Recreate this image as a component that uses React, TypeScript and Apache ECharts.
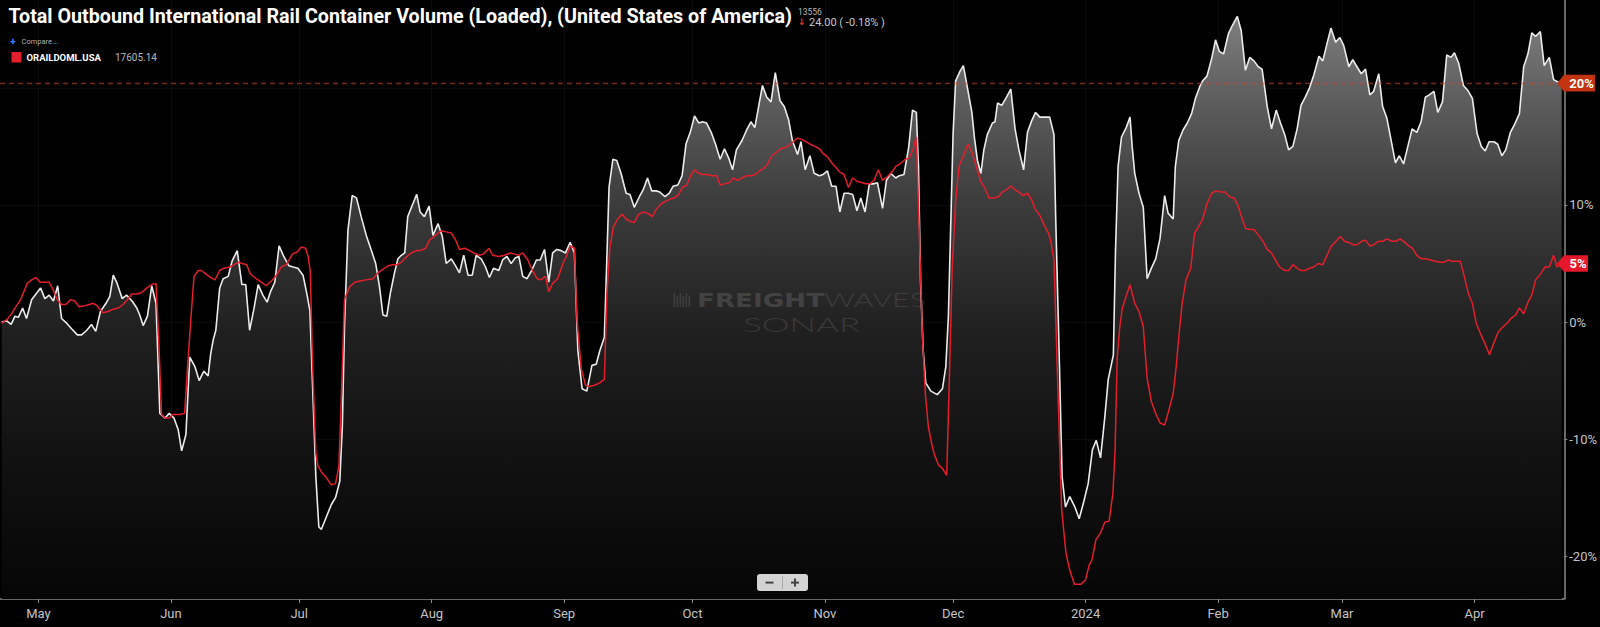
import React, { useEffect, useRef } from "react";
import * as echarts from "echarts";

// ---------- data ----------
const START_DATE = "2023-04-22"; // left edge of the time axis
const END_DATE = "2024-04-22"; // right edge of the time axis

const monthTicks = [
  "2023-05-01", "2023-06-01", "2023-07-01", "2023-08-01", "2023-09-01", "2023-10-01",
  "2023-11-01", "2023-12-01", "2024-01-01", "2024-02-01", "2024-03-01", "2024-04-01",
];
const monthLabels = ["May", "Jun", "Jul", "Aug", "Sep", "Oct", "Nov", "Dec", "2024", "Feb", "Mar", "Apr"];

const yTickValues = [-20, -10, 0, 10, 20];
const yLabelValues = [-20, -10, 0, 10];

const TITLE = "Total Outbound International Rail Container Volume (Loaded), (United States of America)";
const LAST_VALUE = "13556";
const CHANGE_TEXT = "24.00 ( -0.18% )";
const COMPARE_TEXT = "Compare...";
const COMPARE_SYMBOL = "ORAILDOML.USA";
const COMPARE_VALUE = "17605.14";

// [days since START_DATE, % y/y]
const whitePoints: [number, number][] = [
  [0.4,0.0],[1.6,0.1],[2.6,-0.2],[3.5,0.5],[4.3,0.4],[5.3,1.2],[6.2,0.3],[7.4,1.9],[8.4,2.4],[9.5,2.9],[10.5,2.0],[11.5,2.3],[12.5,1.8],[13.5,3.1],[14.4,0.3],[15.6,-0.1],[16.8,-0.6],[18.1,-1.1],[19.1,-1.1],[20.3,-0.7],[21.4,-0.2],[22.4,-0.8],[23.5,0.9],[24.8,1.6],[25.7,2.2],[26.5,4.0],[27.4,3.3],[28.6,2.0],[29.6,2.3],[30.9,1.8],[32.0,1.2],[32.7,0.6],[33.5,-0.3],[34.5,0.5],[35.5,3.1],[36.5,1.6],[37.4,-7.8],[38.6,-8.2],[39.6,-7.8],[40.7,-8.2],[41.7,-9.2],[42.5,-11.0],[43.5,-9.6],[44.4,-3.0],[45.6,-3.8],[46.6,-5.0],[47.7,-4.2],[48.7,-4.6],[49.3,-2.7],[49.9,-1.5],[50.5,-0.7],[51.4,2.9],[52.2,3.7],[53.4,3.9],[54.3,5.2],[55.5,6.1],[56.6,3.2],[57.5,3.2],[58.4,-0.7],[59.4,1.1],[60.4,3.2],[61.5,2.3],[62.5,1.7],[63.3,2.6],[64.3,3.4],[65.3,6.5],[66.4,5.6],[67.6,4.8],[68.6,4.7],[69.7,4.6],[70.9,4.0],[71.8,2.4],[72.5,1.0],[73.2,-6.1],[73.9,-13.2],[74.6,-17.5],[75.2,-17.7],[76.4,-16.6],[77.5,-15.6],[78.5,-15.0],[79.5,-13.6],[80.1,-8.9],[80.6,-0.4],[81.4,7.8],[82.4,10.8],[83.4,10.6],[84.5,9.0],[85.7,7.4],[86.9,6.1],[87.9,5.0],[88.8,3.0],[89.6,0.6],[90.5,0.5],[91.3,2.4],[92.3,4.2],[93.1,5.4],[93.9,5.7],[94.7,5.9],[95.4,9.0],[96.6,10.1],[97.5,10.9],[98.3,9.4],[99.3,9.0],[100.4,9.9],[101.3,7.4],[102.5,8.4],[103.5,7.3],[104.4,5.0],[105.6,5.4],[106.6,4.8],[107.5,4.2],[108.5,5.7],[109.5,4.0],[110.5,4.0],[111.4,5.7],[112.6,5.4],[113.6,4.7],[114.5,3.8],[115.5,4.6],[116.7,4.4],[117.6,5.3],[118.6,5.6],[119.6,5.0],[120.6,5.5],[121.4,5.6],[122.3,3.9],[123.3,3.7],[124.4,4.4],[125.5,5.3],[126.4,5.3],[127.4,6.2],[128.4,3.4],[129.3,5.9],[130.3,6.2],[131.3,6.1],[132.3,5.9],[133.4,6.8],[134.4,5.9],[135.2,-2.4],[136.2,-5.7],[137.3,-5.9],[138.5,-3.7],[139.5,-3.6],[140.3,-2.5],[141.4,-1.3],[142.0,5.6],[142.5,11.5],[143.4,13.9],[144.3,13.8],[145.3,12.7],[146.5,11.0],[147.4,10.9],[148.4,9.8],[149.6,10.7],[150.5,11.3],[151.5,12.3],[152.5,11.2],[153.5,11.2],[154.4,11.1],[155.6,10.7],[156.6,11.0],[157.5,11.6],[158.6,11.7],[159.6,12.5],[160.5,15.2],[161.5,16.2],[162.5,17.6],[163.5,17.0],[164.4,17.1],[165.3,17.0],[166.4,16.2],[167.4,15.2],[168.5,13.9],[169.5,14.8],[170.5,14.0],[171.4,13.0],[172.3,14.7],[173.6,15.5],[174.7,16.4],[175.7,17.1],[176.6,16.6],[177.5,18.4],[178.4,20.2],[179.4,19.2],[180.4,18.8],[181.4,21.3],[182.5,18.9],[183.5,18.4],[184.5,17.3],[185.4,15.5],[186.6,14.3],[187.4,15.4],[188.4,13.0],[189.5,14.2],[190.5,12.7],[191.7,12.5],[192.6,12.6],[193.6,12.9],[194.6,11.6],[195.6,11.6],[196.5,9.4],[197.5,11.0],[198.5,11.0],[199.5,10.9],[200.5,9.5],[201.4,10.6],[202.4,9.4],[203.4,11.8],[204.3,11.8],[205.3,11.9],[206.5,9.7],[207.4,12.1],[208.4,12.7],[209.6,12.3],[210.4,12.5],[211.5,12.6],[212.6,14.9],[213.5,18.1],[214.4,17.9],[214.9,13.3],[215.4,3.3],[216.0,-2.4],[216.6,-5.2],[217.8,-5.9],[219.3,-6.2],[220.5,-5.7],[221.3,-3.8],[221.9,0.5],[222.5,9.0],[223.0,16.1],[223.6,20.6],[224.6,21.4],[225.4,21.9],[226.3,20.1],[227.4,17.9],[228.0,15.7],[228.7,13.8],[229.5,12.7],[230.2,14.7],[231.0,16.0],[232.2,17.0],[232.8,17.1],[233.4,18.7],[234.4,18.5],[235.5,19.2],[236.5,19.9],[237.5,16.5],[238.4,14.7],[239.5,13.0],[240.4,16.2],[241.4,17.2],[242.3,17.9],[243.3,17.5],[244.7,17.5],[245.6,17.5],[246.6,16.0],[247.0,9.0],[247.8,-2.4],[248.5,-13.2],[249.3,-15.8],[250.3,-14.9],[251.5,-15.8],[252.5,-16.8],[253.6,-15.3],[254.6,-13.8],[255.6,-10.9],[256.5,-10.1],[257.5,-11.6],[258.5,-8.1],[259.3,-4.9],[260.5,-2.8],[261.0,6.1],[261.6,13.3],[262.4,15.8],[263.5,16.6],[264.4,17.5],[264.9,15.0],[265.5,12.7],[266.5,11.0],[267.5,9.8],[268.4,3.7],[269.4,4.6],[270.4,5.4],[271.4,7.1],[272.5,10.8],[273.3,9.3],[274.5,8.8],[275.0,13.3],[275.8,15.5],[276.8,16.4],[277.8,17.0],[278.8,17.8],[279.7,19.1],[280.7,20.1],[281.4,20.6],[282.4,21.0],[283.5,22.5],[284.4,24.1],[285.3,23.1],[286.3,22.9],[287.4,24.6],[288.3,25.3],[289.5,26.1],[290.4,24.9],[291.4,21.5],[292.4,22.6],[293.4,22.3],[294.4,21.8],[295.3,21.6],[296.5,18.4],[297.5,16.5],[298.6,18.1],[299.6,17.0],[300.6,16.0],[301.5,14.7],[302.5,15.0],[303.5,16.5],[304.4,18.5],[305.4,19.2],[306.4,20.0],[307.4,21.1],[308.6,22.7],[309.5,22.3],[310.5,23.8],[311.4,25.1],[312.5,23.9],[313.5,24.3],[314.4,23.6],[315.6,21.8],[316.5,22.4],[317.5,21.8],[318.5,21.2],[319.5,21.6],[320.5,19.4],[321.4,19.7],[322.6,21.2],[323.5,18.4],[324.5,17.4],[325.5,15.5],[326.5,13.6],[327.4,14.2],[328.4,13.5],[329.4,15.0],[330.4,16.5],[331.5,16.2],[332.5,17.1],[333.5,19.2],[334.4,19.4],[335.5,19.7],[336.4,17.9],[337.5,18.8],[338.5,22.8],[339.5,22.6],[340.3,23.0],[341.3,22.1],[342.4,20.2],[343.4,19.8],[344.5,19.1],[345.6,16.1],[346.6,15.0],[347.5,14.6],[348.4,15.4],[349.5,15.4],[350.4,15.2],[351.4,14.2],[352.3,14.7],[353.4,16.2],[354.4,16.9],[355.5,17.8],[356.5,21.8],[357.5,22.9],[358.4,24.7],[359.3,24.4],[360.4,24.8],[361.3,21.9],[362.5,22.6],[363.5,20.7],[364.5,20.5],[365.4,20.4],
];

const redPoints: [number, number][] = [
  [0.4,-0.1],[1.6,0.2],[2.7,0.7],[3.7,1.3],[4.8,1.9],[6.4,3.3],[7.4,3.6],[8.4,3.8],[9.4,3.4],[10.5,3.4],[11.5,3.4],[12.5,2.7],[13.4,1.9],[14.4,1.5],[15.4,1.5],[16.5,1.9],[17.5,1.8],[18.5,1.3],[19.9,1.4],[20.9,1.5],[21.8,1.6],[22.7,1.4],[24.1,0.8],[25.3,0.9],[26.5,1.1],[27.7,1.2],[28.8,1.5],[29.8,1.9],[30.8,2.4],[32.0,2.4],[33.1,2.5],[34.3,2.9],[35.5,3.2],[36.5,3.3],[37.2,-2.1],[37.8,-7.9],[38.6,-8.2],[39.6,-8.2],[40.5,-7.9],[42.1,-7.9],[43.2,-7.8],[44.0,-3.2],[44.8,1.0],[45.4,3.9],[46.4,4.4],[47.1,4.4],[48.2,4.1],[49.3,3.8],[50.3,3.6],[51.4,4.4],[52.4,4.6],[53.8,4.7],[54.8,4.9],[55.7,5.1],[56.7,5.0],[57.7,4.9],[58.6,4.1],[59.6,3.8],[60.8,3.5],[62.3,3.1],[63.5,3.5],[64.7,4.0],[65.8,4.7],[67.0,4.9],[68.4,5.8],[69.6,6.0],[70.5,6.4],[71.5,6.3],[72.1,5.6],[72.6,4.3],[73.1,-3.2],[73.9,-11.2],[74.4,-12.3],[75.4,-12.9],[76.4,-13.3],[77.5,-13.9],[78.5,-13.8],[79.3,-12.3],[79.9,-6.1],[80.6,1.9],[81.8,3.0],[83.0,3.4],[84.2,3.5],[85.7,3.6],[87.3,3.7],[88.4,4.2],[89.6,4.5],[90.8,4.8],[91.9,4.9],[92.9,4.9],[93.9,5.1],[94.9,5.5],[96.2,5.9],[97.4,6.1],[98.3,6.1],[99.6,6.3],[100.5,7.0],[101.9,7.4],[103.2,7.8],[104.4,7.7],[105.6,7.6],[106.6,7.0],[107.5,6.2],[108.7,6.3],[109.9,6.1],[110.8,5.9],[112.2,5.7],[113.1,5.8],[114.4,6.3],[115.3,5.7],[116.7,5.6],[118.0,5.7],[119.4,5.9],[120.4,5.8],[121.4,5.7],[122.3,5.9],[123.5,5.3],[124.7,4.3],[125.7,3.7],[126.6,3.6],[127.6,3.9],[128.4,2.6],[129.3,3.3],[130.5,3.7],[131.7,5.0],[132.5,5.6],[133.4,6.5],[134.4,6.3],[135.0,0.2],[136.0,-4.0],[137.0,-5.4],[137.9,-5.5],[139.1,-5.4],[140.3,-5.2],[141.4,-4.9],[142.0,2.4],[142.7,6.4],[143.5,8.1],[144.5,8.8],[145.6,9.2],[146.5,8.8],[147.4,8.6],[148.4,8.5],[149.4,9.2],[150.5,9.4],[151.5,9.3],[152.6,9.0],[153.5,9.6],[154.7,10.1],[155.7,10.3],[156.8,10.5],[157.8,10.6],[158.8,10.9],[159.7,11.5],[160.7,11.7],[161.7,12.6],[162.5,13.0],[163.5,12.7],[164.4,12.6],[165.6,12.6],[166.6,12.5],[167.7,12.5],[168.5,11.7],[169.5,11.8],[170.6,11.9],[171.6,12.3],[172.6,12.1],[173.6,12.3],[174.7,12.5],[175.7,12.5],[176.7,12.6],[177.7,12.9],[178.6,13.1],[179.6,13.5],[180.6,14.2],[181.7,14.5],[182.7,14.8],[183.7,14.9],[184.7,15.1],[185.6,15.4],[186.6,15.7],[187.6,15.6],[188.6,15.4],[189.5,15.2],[190.7,15.0],[191.7,14.8],[192.6,14.4],[193.6,14.1],[194.6,13.6],[195.6,13.2],[196.5,12.8],[197.5,12.6],[198.5,11.5],[199.5,12.3],[200.6,12.0],[201.8,11.9],[202.6,11.8],[203.5,11.8],[204.5,12.1],[205.5,13.0],[206.5,12.1],[207.6,12.4],[208.7,12.8],[209.6,13.3],[210.6,13.5],[211.8,13.9],[212.7,14.0],[213.6,14.7],[214.4,15.8],[215.1,7.6],[215.8,-1.0],[216.5,-6.1],[217.2,-8.9],[218.0,-10.4],[218.6,-11.3],[219.6,-12.2],[220.5,-12.5],[221.5,-13.1],[222.1,-5.2],[222.8,4.7],[223.6,10.4],[224.4,13.3],[225.4,14.2],[226.5,15.2],[227.5,14.4],[228.4,13.3],[229.5,12.0],[230.5,11.4],[231.4,10.6],[232.6,10.6],[233.6,10.7],[234.5,11.1],[235.5,11.3],[236.5,11.6],[237.5,11.3],[238.4,11.1],[239.4,10.8],[240.4,11.0],[241.4,10.4],[242.3,9.6],[243.3,9.1],[244.3,8.3],[245.3,7.6],[245.8,7.0],[246.6,5.3],[247.0,0.5],[247.6,-6.7],[248.4,-16.0],[249.4,-19.7],[250.3,-21.2],[251.4,-22.4],[252.9,-22.4],[254.0,-22.0],[254.8,-20.8],[255.5,-20.3],[256.4,-18.6],[257.5,-18.0],[258.5,-17.1],[259.5,-17.0],[260.4,-14.6],[260.9,-10.9],[261.4,-3.0],[262.0,-0.4],[262.6,1.2],[263.5,2.2],[264.4,3.2],[265.5,1.6],[266.5,0.9],[267.5,-0.4],[268.4,-4.8],[269.4,-6.8],[270.4,-7.8],[271.4,-8.6],[272.5,-8.8],[273.5,-7.5],[274.5,-6.1],[275.2,-3.8],[275.8,-1.3],[276.6,1.6],[277.5,3.6],[278.6,4.6],[279.5,7.6],[280.5,8.2],[281.4,8.8],[282.4,10.1],[283.5,11.0],[284.5,11.2],[285.6,11.1],[286.6,11.1],[287.7,10.7],[288.7,10.6],[289.5,10.1],[290.5,9.0],[291.4,8.0],[292.4,7.9],[293.4,7.9],[294.5,7.4],[295.5,6.9],[296.5,6.2],[297.5,5.9],[298.4,5.3],[299.4,4.7],[300.6,4.4],[301.5,4.4],[302.5,4.9],[303.5,4.6],[304.4,4.4],[305.4,4.4],[306.4,4.6],[307.4,4.7],[308.4,5.0],[309.5,4.9],[310.5,5.7],[311.5,6.5],[312.6,6.9],[313.6,7.3],[314.6,6.9],[315.6,6.8],[316.6,6.6],[317.5,6.6],[318.7,6.9],[319.5,7.0],[320.5,6.5],[321.4,6.6],[322.6,6.9],[323.6,6.9],[324.5,7.1],[325.7,6.9],[326.6,6.9],[327.6,7.1],[328.7,6.8],[329.6,6.5],[330.5,6.3],[331.5,5.7],[332.6,5.4],[333.5,5.4],[334.7,5.3],[335.8,5.2],[337.0,5.1],[337.8,5.1],[338.8,5.3],[339.7,5.2],[340.6,5.2],[341.7,5.2],[342.6,3.9],[343.6,2.4],[344.5,1.6],[345.4,-0.1],[346.3,-0.9],[347.4,-1.8],[348.5,-2.8],[349.5,-1.8],[350.5,-0.9],[351.4,-0.5],[352.6,-0.1],[353.5,0.3],[354.6,0.6],[355.5,1.2],[356.5,0.7],[357.5,1.7],[358.4,2.3],[359.3,3.6],[360.6,4.2],[361.5,4.7],[362.5,4.7],[363.5,5.7],[364.3,4.7],[365.4,5.0],
];

// ---------- helpers ----------
const DAY_MS = 86400000;
function toTs(s: string): number {
  const [y, m, d] = s.split("-").map(Number);
  return new Date(y, m - 1, d).getTime();
}

const FONT = "Roboto, 'Noto Sans', sans-serif";
const TOP_Z = 100;

export default function App() {
  const ref = useRef<HTMLDivElement | null>(null);

  useEffect(() => {
    document.body.style.margin = "0";
    document.body.style.background = "#000";
    if (!ref.current) return;
    const chart = echarts.init(ref.current, null, { renderer: "svg" });

    const start = toTs(START_DATE);
    const end = toTs(END_DATE);
    const white = whitePoints.map(([d, v]) => [start + d * DAY_MS, v]);
    const red = redPoints.map(([d, v]) => [start + d * DAY_MS, v]);
    const tickTs = monthTicks.map(toTs);
    const lastWhite = whitePoints[whitePoints.length - 1][1];
    const lastRed = redPoints[redPoints.length - 1][1];

    chart.setOption({
      animation: false,
      backgroundColor: "#000",
      grid: { left: 0, right: 34, top: 0, bottom: 28, containLabel: false },
      xAxis: {
        type: "value",
        min: start,
        max: end,
        axisLine: { show: true, onZero: false, lineStyle: { color: "#8a8a8a", width: 1.5 } },
        axisTick: { show: true, length: 4, lineStyle: { color: "#8a8a8a" }, customValues: tickTs },
        axisLabel: {
          customValues: tickTs,
          margin: 8,
          color: "#c4c4c4",
          fontSize: 13,
          fontFamily: FONT,
          formatter: (val: number) => {
            const i = tickTs.indexOf(val);
            return i >= 0 ? monthLabels[i] : "";
          },
        },
        splitLine: { show: true, lineStyle: { color: "rgba(255,255,255,0.045)", width: 1 } },
      },
      yAxis: {
        type: "value",
        position: "right",
        min: -23.65,
        max: 27.5,
        axisLine: { show: true, lineStyle: { color: "#8a8a8a", width: 1.5 } },
        axisTick: { show: true, length: 3, lineStyle: { color: "#8a8a8a" }, customValues: yTickValues },
        axisLabel: {
          customValues: yLabelValues,
          margin: 5,
          color: "#c4c4c4",
          fontSize: 13,
          fontFamily: FONT,
          formatter: (v: number) => `${v}%`,
        },
        splitLine: { show: true, lineStyle: { color: "rgba(255,255,255,0.045)", width: 1 } },
      },
      series: [
        {
          type: "line",
          name: "Total Outbound International Rail Container Volume (Loaded)",
          data: white,
          showSymbol: false,
          symbol: "none",
          lineStyle: { color: "#ececec", width: 1.6 },
          itemStyle: { color: "#ececec" },
          areaStyle: {
            origin: "start",
            opacity: 1,
            color: new echarts.graphic.LinearGradient(0, 0, 0, 1, [
              { offset: 0, color: "#7e7e7e" },
              { offset: 0.15, color: "#5c5c5c" },
              { offset: 0.32, color: "#3c3c3c" },
              { offset: 0.54, color: "#202020" },
              { offset: 0.75, color: "#121212" },
              { offset: 1, color: "#060606" },
            ]),
          },
          markLine: {
            silent: true,
            symbol: ["none", "none"],
            label: { show: false },
            lineStyle: { type: [5, 4], color: "rgba(205,70,40,0.6)", width: 1.3 },
            data: [{ yAxis: lastWhite }],
          },
          z: 2,
        },
        {
          type: "line",
          name: COMPARE_SYMBOL,
          data: red,
          showSymbol: false,
          symbol: "none",
          lineStyle: { color: "#e41f2b", width: 1.5 },
          itemStyle: { color: "#e41f2b" },
          z: 3,
        },
      ],
    });

    const yW = chart.convertToPixel({ yAxisIndex: 0 }, lastWhite) as number;
    const yR = chart.convertToPixel({ yAxisIndex: 0 }, lastRed) as number;

    const tag = (id: string, y: number, text: string, color: string, right: number) => ({
      type: "group",
      id,
      children: [
        {
          type: "polygon",
          z: TOP_Z,
          shape: {
            points: [
              [1557, y],
              [1564, y - 8.3],
              [right, y - 8.3],
              [right, y + 8.3],
              [1564, y + 8.3],
            ],
          },
          style: { fill: color },
        },
        {
          type: "text",
          z: TOP_Z + 1,
          x: (1566 + right) / 2 + 1,
          y: y + 0.5,
          style: {
            text,
            fill: "#fff",
            font: `bold 13px ${FONT}`,
            align: "center",
            verticalAlign: "middle",
          },
        },
      ],
    });

    const wmFill = "rgba(150,150,150,0.22)";
    const graphics: any[] = [
      {
        type: "text",
        id: "title",
        z: TOP_Z,
        x: 8.5,
        y: 16.8,
        style: { text: TITLE, fill: "#ffffff", font: `bold 19.7px ${FONT}`, verticalAlign: "middle" },
      },
      {
        type: "text",
        id: "last",
        z: TOP_Z,
        x: 798,
        y: 12.3,
        style: { text: LAST_VALUE, fill: "#b8b8b8", font: `8.5px ${FONT}`, verticalAlign: "middle" },
      },
      {
        type: "text",
        id: "arrow",
        z: TOP_Z,
        x: 798,
        y: 22.2,
        style: { text: "↓", fill: "#e53935", font: `bold 9px 'DejaVu Sans'`, verticalAlign: "middle" },
      },
      {
        type: "text",
        id: "change",
        z: TOP_Z,
        x: 809,
        y: 22.2,
        style: { text: CHANGE_TEXT, fill: "#c8c8c8", font: `11px ${FONT}`, verticalAlign: "middle" },
      },
      {
        type: "text",
        id: "plus",
        z: TOP_Z,
        x: 13,
        y: 41,
        style: { text: "+", fill: "#3f86ff", font: `bold 10px ${FONT}`, align: "center", verticalAlign: "middle" },
      },
      {
        type: "text",
        id: "compare",
        z: TOP_Z,
        x: 21.5,
        y: 41,
        style: { text: COMPARE_TEXT, fill: "#b0b0b0", font: `7.5px ${FONT}`, verticalAlign: "middle" },
      },
      {
        type: "rect",
        id: "legendSwatch",
        z: TOP_Z,
        shape: { x: 11.5, y: 52, width: 10, height: 10.5 },
        style: { fill: "#e41f2b" },
      },
      {
        type: "text",
        id: "legendName",
        z: TOP_Z,
        x: 26.5,
        y: 57.3,
        style: { text: COMPARE_SYMBOL, fill: "#ffffff", font: `bold 9.5px ${FONT}`, verticalAlign: "middle" },
      },
      {
        type: "text",
        id: "legendValue",
        z: TOP_Z,
        x: 115,
        y: 57.3,
        style: { text: COMPARE_VALUE, fill: "#b8b8b8", font: `10px ${FONT}`, verticalAlign: "middle" },
      },
      // watermark (above the area fill)
      ...[0, 1, 2, 3, 4, 5].map((i) => ({
        type: "rect",
        id: `wmBar${i}`,
        z: 10,
        silent: true,
        shape: { x: 673.5 + i * 3, y: 293 + (i % 2 === 0 ? 0 : 3), width: 1.6, height: i % 2 === 0 ? 14 : 11 },
        style: { fill: wmFill },
      })),
      {
        type: "text",
        id: "wmFreight",
        z: 10,
        silent: true,
        x: 697,
        y: 300,
        scaleX: 1.38,
        style: { text: "FREIGHT", fill: "rgba(150,150,150,0.26)", font: `900 19px 'DejaVu Sans'`, verticalAlign: "middle" },
      },
      {
        type: "text",
        id: "wmWaves",
        z: 10,
        silent: true,
        x: 824,
        y: 300,
        scaleX: 1.6,
        style: { text: "WAVES", fill: wmFill, font: `300 19px Lato`, verticalAlign: "middle" },
      },
      {
        type: "text",
        id: "wmSonar",
        z: 10,
        silent: true,
        x: 743,
        y: 324.5,
        scaleX: 1.8,
        style: { text: "SONAR", fill: wmFill, font: `300 19.5px Lato`, verticalAlign: "middle" },
      },
      // zoom control
      { type: "rect", id: "zBox", z: TOP_Z, shape: { x: 757, y: 574, width: 51, height: 17, r: 3 }, style: { fill: "#d3d3d3" } },
      { type: "line", id: "zSep", z: TOP_Z + 1, shape: { x1: 782.5, y1: 576, x2: 782.5, y2: 589 }, style: { stroke: "#a8a8a8", lineWidth: 1 } },
      { type: "rect", id: "zMinus", z: TOP_Z + 1, shape: { x: 765.5, y: 581.6, width: 8, height: 2 }, style: { fill: "#444" } },
      { type: "rect", id: "zPlusH", z: TOP_Z + 1, shape: { x: 791, y: 581.6, width: 8, height: 2 }, style: { fill: "#444" } },
      { type: "rect", id: "zPlusV", z: TOP_Z + 1, shape: { x: 794, y: 578.6, width: 2, height: 8 }, style: { fill: "#444" } },
      tag("tagWhite", yW, `${Math.round(lastWhite)}%`, "#c2330f", 1595),
      tag("tagRed", yR, `${Math.round(lastRed)}%`, "#e5172b", 1588),
    ];

    chart.setOption({ graphic: graphics });

    return () => chart.dispose();
  }, []);

  return (
    <div
      ref={ref}
      style={{ position: "absolute", left: 0, top: 0, width: 1600, height: 627, background: "#000" }}
    />
  );
}
